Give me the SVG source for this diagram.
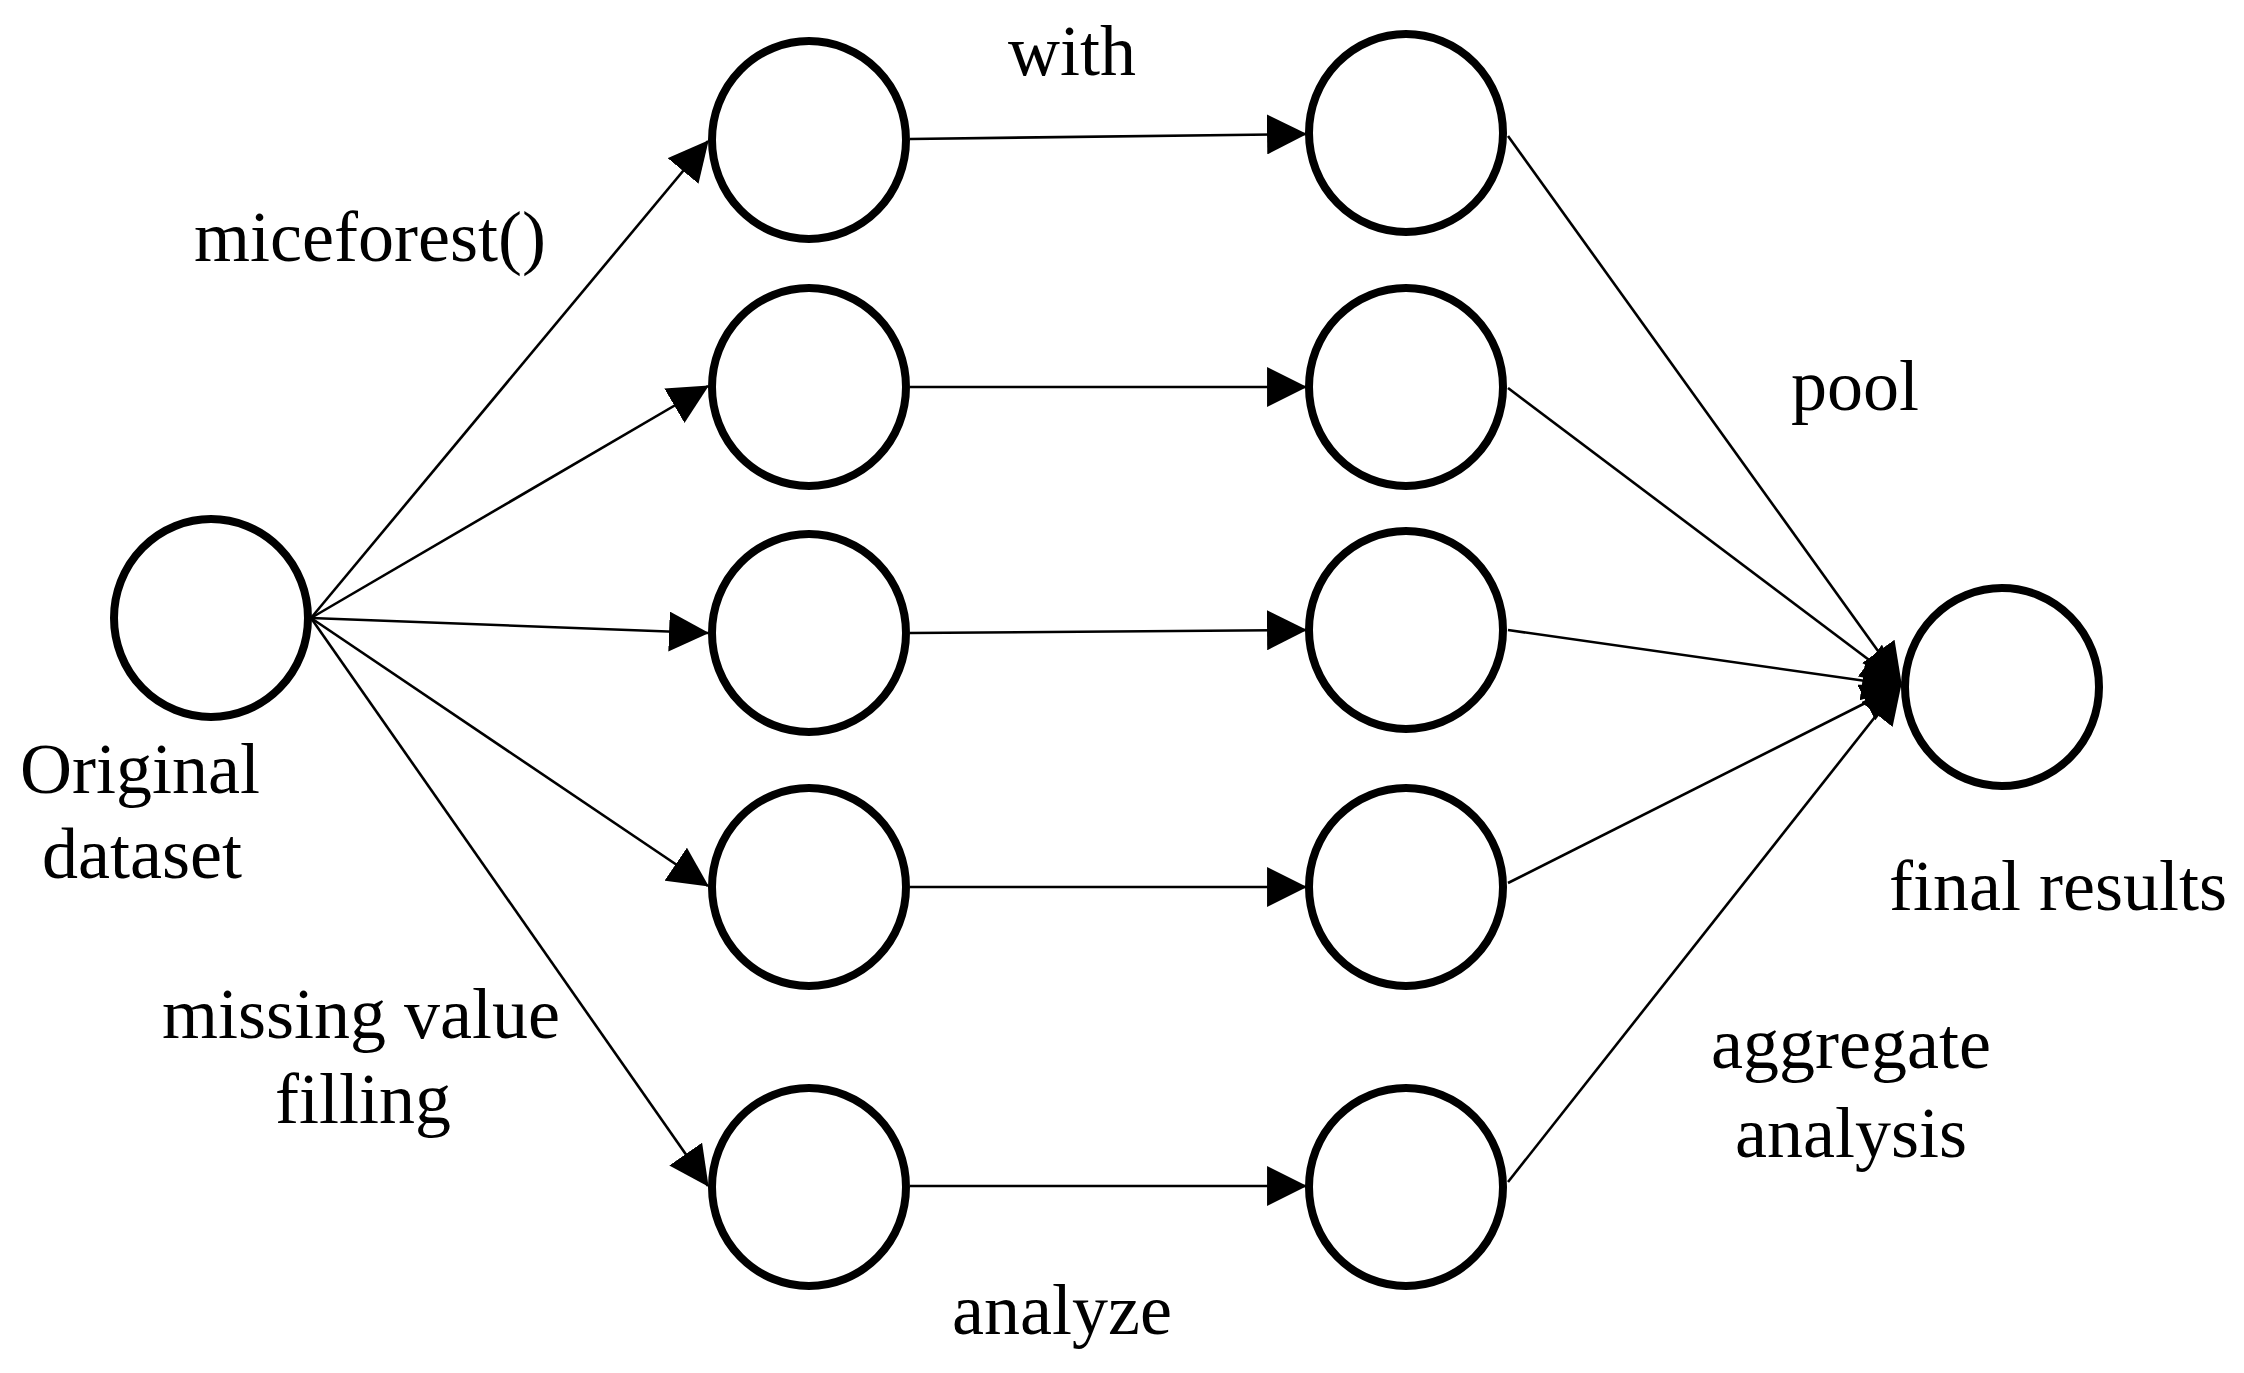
<svg xmlns="http://www.w3.org/2000/svg" width="2244" height="1373" viewBox="0 0 2244 1373">
<style>
.node{fill:#fff;stroke:#000;stroke-width:8}
.edge{stroke:#000;stroke-width:2.6;fill:none}
text{font-family:"Liberation Serif","Times New Roman",serif;font-size:72px;fill:#000}
</style>
<defs>
<marker id="arr" markerUnits="userSpaceOnUse" markerWidth="40" markerHeight="40" viewBox="0 0 38 38" refX="37" refY="19" orient="auto">
<path d="M0,0 L38,19 L0,38 z" fill="#000"/>
</marker>
</defs>
<rect width="2244" height="1373" fill="#fff"/>
<g id="connectors">
<line class="edge" x1="311" y1="618" x2="708" y2="141" marker-end="url(#arr)"/>
<line class="edge" x1="311" y1="618" x2="708" y2="386" marker-end="url(#arr)"/>
<line class="edge" x1="311" y1="618" x2="708" y2="633" marker-end="url(#arr)"/>
<line class="edge" x1="311" y1="618" x2="708" y2="886" marker-end="url(#arr)"/>
<line class="edge" x1="311" y1="618" x2="708" y2="1186" marker-end="url(#arr)"/>
<line class="edge" x1="910" y1="139" x2="1306" y2="134" marker-end="url(#arr)"/>
<line class="edge" x1="910" y1="387" x2="1306" y2="387" marker-end="url(#arr)"/>
<line class="edge" x1="910" y1="633" x2="1306" y2="630" marker-end="url(#arr)"/>
<line class="edge" x1="910" y1="887" x2="1306" y2="887" marker-end="url(#arr)"/>
<line class="edge" x1="910" y1="1186" x2="1306" y2="1186" marker-end="url(#arr)"/>
<line class="edge" x1="1508" y1="136" x2="1901" y2="683" marker-end="url(#arr)"/>
<line class="edge" x1="1508" y1="388" x2="1901" y2="684" marker-end="url(#arr)"/>
<line class="edge" x1="1508" y1="630" x2="1901" y2="686" marker-end="url(#arr)"/>
<line class="edge" x1="1508" y1="883" x2="1901" y2="685" marker-end="url(#arr)"/>
<line class="edge" x1="1508" y1="1182" x2="1901" y2="684" marker-end="url(#arr)"/>
</g>
<g id="original"><ellipse class="node" cx="211" cy="618" rx="97" ry="99"/>
<text x="140" y="793" text-anchor="middle">Original</text><text x="142" y="878" text-anchor="middle">dataset</text></g>
<g id="imp1"><ellipse class="node" cx="809" cy="140" rx="97" ry="99"/></g>
<g id="imp2"><ellipse class="node" cx="809" cy="387" rx="97" ry="99"/></g>
<g id="imp3"><ellipse class="node" cx="809" cy="633" rx="97" ry="99"/></g>
<g id="imp4"><ellipse class="node" cx="809" cy="887" rx="97" ry="99"/></g>
<g id="imp5"><ellipse class="node" cx="809" cy="1187" rx="97" ry="99"/></g>
<g id="an1"><ellipse class="node" cx="1406" cy="133" rx="97" ry="99"/></g>
<g id="an2"><ellipse class="node" cx="1406" cy="387" rx="97" ry="99"/></g>
<g id="an3"><ellipse class="node" cx="1406" cy="630" rx="97" ry="99"/></g>
<g id="an4"><ellipse class="node" cx="1406" cy="887" rx="97" ry="99"/></g>
<g id="an5"><ellipse class="node" cx="1406" cy="1187" rx="97" ry="99"/></g>
<g id="final"><ellipse class="node" cx="2002" cy="687" rx="97" ry="99"/>
<text x="2058" y="910" text-anchor="middle">final results</text></g>
<g id="labels">
<text x="370" y="261" text-anchor="middle">miceforest()</text>
<text x="1072" y="75" text-anchor="middle">with</text>
<text x="1791" y="410">pool</text>
<text x="361" y="1038" text-anchor="middle">missing value</text>
<text x="363" y="1123" text-anchor="middle">filling</text>
<text x="1851" y="1068" text-anchor="middle">aggregate</text>
<text x="1851" y="1157" text-anchor="middle">analysis</text>
<text x="952" y="1334">analyze</text>
</g>
</svg>
